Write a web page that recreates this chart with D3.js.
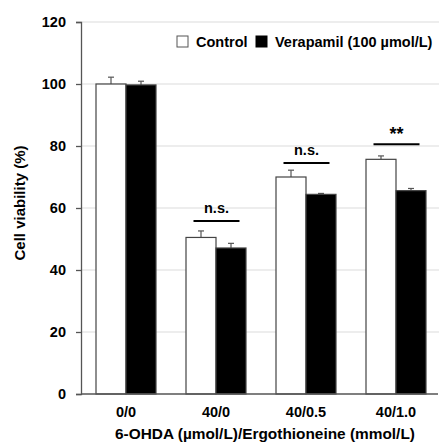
<!DOCTYPE html>
<html>
<head>
<meta charset="utf-8">
<script src="https://cdn.jsdelivr.net/npm/d3@7"></script>
<style>
  body { margin: 0; background: #fff; }
  svg { display: block; font-family: "Liberation Sans", Arial, sans-serif; font-weight: bold; }
</style>
</head>
<body>
<div id="chart"></div>
<script>
// data
const categories = ["0/0", "40/0", "40/0.5", "40/1.0"];
const seriesNames = ["Control", "Verapamil (100 \u00b5mol/L)"];
const controlValues = [100, 50.5, 70, 75.7];
const verapamilValues = [99.7, 47.1, 64.4, 65.6];
const controlErrors = [2.2, 2.1, 2.2, 1.1];
const verapamilErrors = [1.2, 1.5, 0.3, 0.7];
const significance = ["", "n.s.", "n.s.", "**"];
const sigLevels = [null, 55.8, 74.5, 80.6];
const yTicks = [0, 20, 40, 60, 80, 100, 120];

const W = 439, H = 448;
const plotLeft = 81, plotRight = 441, plotTop = 22, plotBottom = 394;
const FONT = "Liberation Sans, Arial, sans-serif";

const svg = d3.select("#chart").append("svg")
    .attr("width", W)
    .attr("height", H);

const x = d3.scaleBand().domain(categories).range([plotLeft, plotRight])
    .paddingInner(1 / 3).paddingOuter(1 / 6);
const xs = d3.scaleBand().domain([0, 1]).range([0, x.bandwidth()]);
const y = d3.scaleLinear().domain([0, 120]).range([plotBottom, plotTop]);

// gridlines
svg.append("g").selectAll("line").data(yTicks.filter(d => d > 0)).enter().append("line")
    .attr("x1", plotLeft).attr("x2", 439)
    .attr("y1", d => y(d)).attr("y2", d => y(d))
    .attr("stroke", "#dcdcdc").attr("stroke-width", 1.2);

const rows = categories.map((c, i) => ({
    cat: c,
    vals: [controlValues[i], verapamilValues[i]],
    errs: [controlErrors[i], verapamilErrors[i]],
    sig: significance[i],
    level: sigLevels[i]
}));

// error bars (drawn behind bars)
const eg = svg.append("g").attr("stroke", "#555").attr("stroke-width", 1.2);
rows.forEach(r => {
    r.vals.forEach((v, j) => {
        const cx = x(r.cat) + xs(j) + xs.bandwidth() / 2;
        eg.append("line").attr("x1", cx).attr("x2", cx)
            .attr("y1", y(v)).attr("y2", y(v + r.errs[j]));
        eg.append("line").attr("x1", cx - 3).attr("x2", cx + 3)
            .attr("y1", y(v + r.errs[j])).attr("y2", y(v + r.errs[j]));
    });
});

// bars
const groups = svg.append("g").selectAll("g").data(rows).enter().append("g")
    .attr("transform", d => `translate(${x(d.cat)},0)`);
groups.selectAll("rect").data(d => d.vals).enter().append("rect")
    .attr("x", (d, j) => xs(j))
    .attr("y", d => y(d))
    .attr("width", xs.bandwidth())
    .attr("height", d => plotBottom - y(d))
    .attr("fill", (d, j) => j === 0 ? "#fff" : "#000")
    .attr("stroke", "#444")
    .attr("stroke-width", 1.2);

// significance markers
rows.filter(r => r.sig).forEach(r => {
    const ly = y(r.level);
    const cx = x(r.cat) + x.bandwidth() / 2 + 0.5;
    svg.append("line")
        .attr("x1", cx - 23).attr("x2", cx + 23)
        .attr("y1", ly).attr("y2", ly)
        .attr("stroke", "#000").attr("stroke-width", 2);
    const stars = r.sig === "**";
    svg.append("text")
        .attr("x", cx).attr("y", ly - (stars ? 4.5 : 8.5))
        .attr("text-anchor", "middle")
        .attr("font-size", stars ? 18 : 14.5)
        .text(r.sig);
});

// axes
const yAxis = svg.append("g").attr("transform", `translate(${plotLeft},0)`)
    .call(d3.axisLeft(y).tickValues(yTicks).tickSize(5).tickPadding(10));
yAxis.select(".domain").attr("stroke", "#555").attr("stroke-width", 1.3);
yAxis.selectAll(".tick line").attr("stroke", "#555").attr("stroke-width", 1.3);
yAxis.selectAll("text").attr("font-size", 14.5).attr("font-weight", "bold")
    .attr("font-family", FONT).attr("fill", "#000");

const xAxis = svg.append("g").attr("transform", `translate(0,${plotBottom})`)
    .call(d3.axisBottom(x).tickSize(0));
xAxis.select(".domain").attr("d", `M${plotLeft},0H438`).attr("stroke", "#555").attr("stroke-width", 1.3);
xAxis.selectAll("text").attr("font-size", 14.5).attr("font-weight", "bold")
    .attr("font-family", FONT).attr("fill", "#000")
    .attr("y", 23).attr("dy", 0);

// axis titles
svg.append("text")
    .attr("x", 265).attr("y", 439)
    .attr("text-anchor", "middle")
    .attr("font-size", 15.4)
    .text("6-OHDA (\u00b5mol/L)/Ergothioneine (mmol/L)");
svg.append("text")
    .attr("transform", "translate(25,203) rotate(-90)")
    .attr("text-anchor", "middle")
    .attr("font-size", 15)
    .text("Cell viability (%)");

// legend
const legend = svg.append("g");
const legendX = [177, 256];
seriesNames.forEach((n, j) => {
    legend.append("rect")
        .attr("x", legendX[j]).attr("y", 36)
        .attr("width", 11).attr("height", 11)
        .attr("fill", j === 0 ? "#fff" : "#000")
        .attr("stroke", j === 0 ? "#555" : "#000");
    legend.append("text")
        .attr("x", legendX[j] + 19).attr("y", 47)
        .attr("font-size", 14.5)
        .text(n);
});
</script>
</body>
</html>
